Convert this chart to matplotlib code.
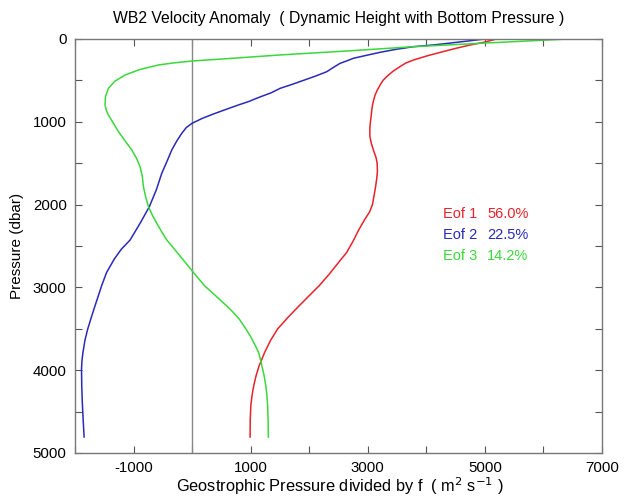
import numpy as np
import matplotlib
matplotlib.use("Agg")
import matplotlib.pyplot as plt

plt.rcParams['font.family'] = ['Liberation Sans', 'DejaVu Sans']

# EOF profiles: pressure (dbar) and value (m2/s)
eof1_p = [0, 40, 72, 110, 150, 200, 254, 290, 334, 390, 450, 500, 556, 620, 676, 740, 800, 860,
          918, 1000, 1080, 1173, 1260, 1350, 1430, 1500, 1600, 1700, 1800, 1900, 2000, 2090,
          2177, 2300, 2440, 2578, 2700, 2850, 2980, 3100, 3221, 3360, 3502, 3640, 3783, 3870,
          3944, 4060, 4185, 4300, 4426, 4600, 4807]
eof1_x = [5200, 4980, 4750, 4520, 4300, 4030, 3780, 3650, 3550, 3430, 3330, 3260, 3210, 3160,
          3125, 3100, 3080, 3068, 3060, 3045, 3035, 3035, 3060, 3100, 3140, 3160, 3165, 3150,
          3130, 3105, 3080, 3030, 2950, 2850, 2750, 2640, 2500, 2330, 2170, 2000, 1830, 1640,
          1460, 1340, 1240, 1190, 1146, 1095, 1053, 1025, 1003, 993, 990]

eof2_p = [0, 40, 72, 93, 125, 161, 200, 233, 265, 294, 340, 395, 450, 500, 550, 596, 650, 700,
          757, 797, 850, 906, 960, 1018, 1070, 1139, 1230, 1340, 1480, 1622, 1820, 2025, 2226,
          2428, 2540, 2659, 2820, 2980, 3100, 3221, 3360, 3502, 3640, 3783, 3880, 3984, 4200,
          4385, 4600, 4807]
eof2_x = [5000, 4520, 4120, 3780, 3480, 3210, 2960, 2755, 2640, 2527, 2420, 2300, 2100, 1900,
          1700, 1503, 1350, 1160, 960, 790, 580, 364, 170, 0, -100, -176, -260, -347, -430,
          -518, -610, -730, -888, -1059, -1210, -1330, -1460, -1545, -1600, -1657, -1720, -1782,
          -1830, -1863, -1880, -1888, -1884, -1875, -1860, -1844]

eof3_p = [0, 25, 52, 93, 145, 193, 230, 266, 290, 314, 370, 435, 510, 596, 700, 797, 860, 918,
          1010, 1119, 1230, 1340, 1440, 1542, 1660, 1784, 1900, 2025, 2126, 2226, 2328, 2428,
          2540, 2659, 2800, 2890, 2980, 3100, 3221, 3300, 3382, 3482, 3582, 3683, 3783, 3864,
          3944, 4060, 4185, 4300, 4426, 4600, 4807]
eof3_x = [6400, 5700, 4920, 3780, 2640, 1500, 750, 0, -330, -575, -900, -1144, -1320, -1429,
          -1480, -1486, -1465, -1429, -1350, -1258, -1145, -1030, -950, -888, -850, -831, -795,
          -746, -680, -603, -520, -432, -300, -162, 0, 105, 212, 400, 586, 700, 804, 900, 990,
          1065, 1134, 1165, 1190, 1228, 1258, 1277, 1290, 1298, 1302]

names = ["Eof 1", "Eof 2", "Eof 3"]
percents = ["56.0%", "22.5%", "14.2%"]
colors = ["#e8222a", "#2a2ab8", "#3ad83a"]

fig = plt.figure(figsize=(6.3, 4.98), dpi=100)
ax = fig.add_axes([0.119, 0.0904, 0.8366, 0.8313])

ax.axvline(0, color="#888888", lw=1.0)
ax.plot(eof1_x, eof1_p, color=colors[0], lw=1.1)
ax.plot(eof2_x, eof2_p, color=colors[1], lw=1.1)
ax.plot(eof3_x, eof3_p, color=colors[2], lw=1.1)

ax.set_xlim(-2000, 7000)
ax.set_ylim(5000, 0)
ax.set_xticks(np.arange(-2000, 7001, 1000))
ax.set_xticklabels(["" if v % 2000 == 0 else str(v) for v in range(-2000, 7001, 1000)])
ax.set_yticks(np.arange(0, 5001, 500))
ax.set_yticklabels([str(v) if v % 1000 == 0 else "" for v in range(0, 5001, 500)])
ax.tick_params(direction="in", top=True, right=True, length=5, width=0.8,
               color="#555555", labelsize=10.8, pad=6)
for s in ax.spines.values():
    s.set_color("#777777")
    s.set_linewidth(1.0)

# legend text
for i in range(3):
    yy = 2113 + i * 253
    ax.text(4286, yy, names[i], color=colors[i], fontsize=10.5, va="center", ha="left")
    ax.text(5037, yy, percents[i], color=colors[i], fontsize=10.5, va="center", ha="left")

fig.text(0.538, 0.962, "WB2 Velocity Anomaly  ( Dynamic Height with Bottom Pressure )",
         ha="center", va="center", fontsize=11.3)
ax.set_ylabel("Pressure (dbar)", fontsize=11, labelpad=6)
fig.text(0.54, 0.024, "Geostrophic Pressure divided by f  ( m$^2$ s$^{-1}$ )",
         ha="center", va="center", fontsize=11.8)

fig.savefig("out.png", dpi=100)
